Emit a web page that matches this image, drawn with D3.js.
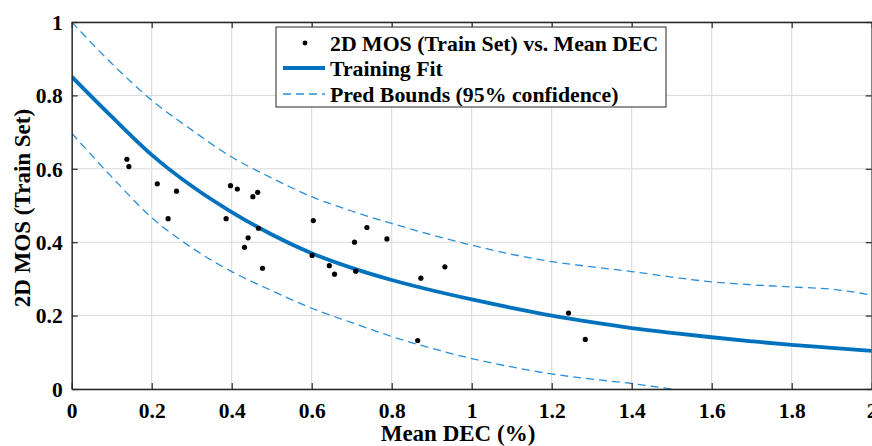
<!DOCTYPE html>
<html>
<head>
<meta charset="utf-8">
<script src="https://cdn.jsdelivr.net/npm/d3@7"></script>
<style>
  body { margin: 0; background: #fff; }
  svg { display: block; }
  text { font-family: "Liberation Serif", "Times New Roman", serif; font-weight: bold; fill: #000; }
</style>
</head>
<body>
<svg id="chart" width="872" height="446"></svg>
<script>
// measured points: 2D MOS (train set) vs mean DEC
const trainX = [0.138, 0.143, 0.214, 0.241, 0.262, 0.386, 0.397, 0.414, 0.432, 0.441, 0.453, 0.465, 0.467, 0.477,
  0.601, 0.604, 0.644, 0.657, 0.707, 0.710, 0.738, 0.788, 0.865, 0.873, 0.933, 1.242, 1.284];
const trainY = [0.626, 0.606, 0.559, 0.464, 0.539, 0.464, 0.554, 0.545, 0.386, 0.412, 0.524, 0.536, 0.438, 0.329,
  0.364, 0.459, 0.336, 0.313, 0.400, 0.321, 0.440, 0.409, 0.132, 0.302, 0.333, 0.207, 0.135];

// fitted curve and prediction bounds
const curveX = [0, 0.1, 0.2, 0.3, 0.4, 0.5, 0.6, 0.7, 0.8, 0.9, 1.0, 1.1, 1.2, 1.3, 1.4, 1.5, 1.6, 1.7, 1.8, 1.9, 2.0];
const fitY   = [0.851, 0.742, 0.638, 0.553, 0.482, 0.421, 0.370, 0.330, 0.297, 0.269, 0.244, 0.221, 0.200, 0.182, 0.166, 0.153, 0.141, 0.130, 0.120, 0.112, 0.104];
const upperY = [1.000, 0.887, 0.787, 0.706, 0.632, 0.575, 0.524, 0.485, 0.451, 0.420, 0.392, 0.367, 0.347, 0.333, 0.320, 0.305, 0.292, 0.284, 0.278, 0.272, 0.256];
const lowerY = [0.697, 0.578, 0.467, 0.385, 0.320, 0.268, 0.220, 0.181, 0.143, 0.111, 0.083, 0.060, 0.041, 0.027, 0.015, 0.000, -0.012, -0.022, -0.031, -0.039, -0.046];

const xTicks = [0, 0.2, 0.4, 0.6, 0.8, 1, 1.2, 1.4, 1.6, 1.8, 2];
const yTicks = [0, 0.2, 0.4, 0.6, 0.8, 1];
const legendLabels = ['2D MOS (Train Set) vs. Mean DEC', 'Training Fit', 'Pred Bounds (95% confidence)'];

const fitColor = '#0072bd';
const boundColor = '#2b8fd8';

const svg = d3.select('#chart');
const plotL = 71.7, plotR = 871.7, plotT = 22, plotB = 389;

const x = d3.scaleLinear().domain([0, 2]).range([plotL, plotR]);
const y = d3.scaleLinear().domain([0, 1]).range([plotB, plotT]);

svg.append('defs').append('clipPath').attr('id', 'plot')
  .append('rect').attr('x', plotL).attr('y', plotT).attr('width', plotR - plotL).attr('height', plotB - plotT);

// grid
const grid = svg.append('g').attr('stroke', '#d9d9d9').attr('stroke-width', 1);
grid.selectAll('.gx').data(xTicks).enter().append('line')
  .attr('x1', d => x(d)).attr('x2', d => x(d)).attr('y1', plotT).attr('y2', plotB);
grid.selectAll('.gy').data(yTicks).enter().append('line')
  .attr('x1', plotL).attr('x2', plotR).attr('y1', d => y(d)).attr('y2', d => y(d));

// curves
const line = d3.line()
  .x(d => x(d[0])).y(d => y(d[1]))
  .curve(d3.curveMonotoneX);

const lines = svg.append('g').attr('clip-path', 'url(#plot)').attr('fill', 'none');
lines.append('path')
  .attr('d', line(d3.zip(curveX, upperY)))
  .attr('stroke', boundColor).attr('stroke-width', 1.3).attr('stroke-dasharray', '8,5');
lines.append('path')
  .attr('d', line(d3.zip(curveX, lowerY)))
  .attr('stroke', boundColor).attr('stroke-width', 1.3).attr('stroke-dasharray', '8,5');
lines.append('path')
  .attr('d', line(d3.zip(curveX, fitY)))
  .attr('stroke', fitColor).attr('stroke-width', 3.8);

// points
svg.append('g').selectAll('circle').data(d3.zip(trainX, trainY)).enter().append('circle')
  .attr('cx', d => x(d[0])).attr('cy', d => y(d[1])).attr('r', 2.6).attr('fill', '#000');

// axes (box with inner ticks)
const axisColor = '#262626';
const ax = svg.append('g');
const bottomAxis = ax.append('g').attr('transform', `translate(0,${plotB})`)
  .call(d3.axisBottom(x).tickValues(xTicks).tickSizeInner(-6).tickSizeOuter(0).tickPadding(14).tickFormat(d3.format('')));
ax.append('g').attr('transform', `translate(0,${plotT})`)
  .call(d3.axisTop(x).tickValues(xTicks).tickSizeInner(-6).tickSizeOuter(0).tickFormat(''));
const leftAxis = ax.append('g').attr('transform', `translate(${plotL},0)`)
  .call(d3.axisLeft(y).tickValues(yTicks).tickSizeInner(-6).tickSizeOuter(0).tickPadding(9).tickFormat(d3.format('')));
ax.append('g').attr('transform', `translate(${plotR},0)`)
  .call(d3.axisRight(y).tickValues(yTicks).tickSizeInner(-6).tickSizeOuter(0).tickFormat(''));

ax.selectAll('.domain').attr('stroke', axisColor).attr('stroke-width', 1.4);
ax.selectAll('.tick line').attr('stroke', axisColor).attr('stroke-width', 1.2);
ax.selectAll('.tick text').attr('font-size', 21.5).attr('fill', '#000')
  .style('font-family', '"Liberation Serif", serif').style('font-weight', 'bold');
bottomAxis.selectAll('.tick text').attr('dy', '0.71em');
leftAxis.selectAll('.tick text').attr('dy', '0.34em');

// axis titles
svg.append('text').attr('x', 458).attr('y', 441)
  .attr('text-anchor', 'middle').attr('font-size', 23).text('Mean DEC (%)');
svg.append('text').attr('transform', 'translate(30,208) rotate(-90)')
  .attr('text-anchor', 'middle').attr('font-size', 23).text('2D MOS (Train Set)');

// legend
const lg = svg.append('g');
lg.append('rect').attr('x', 276).attr('y', 27).attr('width', 390).attr('height', 80)
  .attr('fill', '#fff').attr('stroke', axisColor).attr('stroke-width', 1);
const rowY = [43, 68, 94];
lg.selectAll('text').data(legendLabels).enter().append('text')
  .attr('x', 330).attr('y', (d, i) => rowY[i]).attr('dy', '0.35em')
  .attr('font-size', 21.8).text(d => d);
lg.append('circle').attr('cx', 305).attr('cy', rowY[0]).attr('r', 2.4).attr('fill', '#000');
lg.append('line').attr('x1', 283).attr('x2', 325).attr('y1', rowY[1]).attr('y2', rowY[1])
  .attr('stroke', fitColor).attr('stroke-width', 3.8);
lg.append('line').attr('x1', 283).attr('x2', 325).attr('y1', rowY[2]).attr('y2', rowY[2])
  .attr('stroke', boundColor).attr('stroke-width', 1.3).attr('stroke-dasharray', '8,5');
</script>
</body>
</html>
